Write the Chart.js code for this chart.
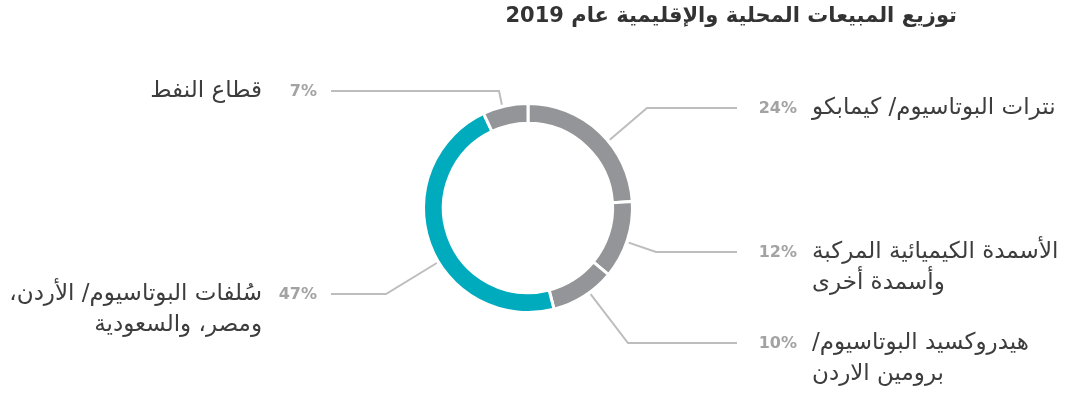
<!DOCTYPE html>
<html>
<head>
  <meta charset="utf-8">
  <style>
    body { margin: 0; padding: 0; background: #fff; }
    #wrap { width: 1078px; height: 394px; }
  </style>
  <script src="https://cdn.jsdelivr.net/npm/chart.js"></script>
</head>
<body>
  <div id="wrap"><canvas id="chart" width="1078" height="394"></canvas></div>
  <script>
    // Sales split, clockwise from 12 o'clock
    const titleText = "توزيع المبيعات المحلية والإقليمية عام 2019";
    const segmentLabels = [
      ["نترات البوتاسيوم/ كيمابكو"],
      ["الأسمدة الكيميائية المركبة", "وأسمدة أخرى"],
      ["هيدروكسيد البوتاسيوم/", "برومين الاردن"],
      ["سُلفات البوتاسيوم/ الأردن،", "ومصر، والسعودية"],
      ["قطاع النفط"]
    ];
    const shares = [24, 12, 10, 47, 7];
    const sliceColors = ["#939598", "#939598", "#939598", "#00abbd", "#939598"];

    // Callout layout: side, elbow point, line end x, nudge of the anchor angle (deg)
    const calloutSide = ["right", "right", "right", "left", "left"];
    const calloutElbow = [[647, 108], [656, 252], [628, 343], [386, 294], [499, 91]];
    const calloutEndX = [737, 737, 737, 331, 331];
    const anchorNudge = [7, 1, -3.6, -11.3, -1.6];

    const LABEL_FONT = '"DejaVu Sans", sans-serif';
    const LINE_GAP = 31;

    const calloutPlugin = {
      id: "callouts",
      afterDraw(chart) {
        const ctx = chart.ctx;
        const arcs = chart.getDatasetMeta(0).data;
        ctx.save();

        // title
        ctx.direction = "rtl";
        ctx.fillStyle = "#333333";
        ctx.font = "bold 21px " + LABEL_FONT;
        ctx.textAlign = "right";
        ctx.textBaseline = "middle";
        ctx.fillText(titleText, 957, 17);

        arcs.forEach((arc, i) => {
          const p = arc.getProps(["x", "y", "startAngle", "endAngle", "outerRadius"], true);
          const a = (p.startAngle + p.endAngle) / 2 + anchorNudge[i] * Math.PI / 180;
          const r = p.outerRadius + 2;
          const sx = p.x + Math.cos(a) * r;
          const sy = p.y + Math.sin(a) * r;
          const [ex, ey] = calloutElbow[i];

          // leader line
          ctx.strokeStyle = "#bdbdbd";
          ctx.lineWidth = 2;
          ctx.beginPath();
          ctx.moveTo(sx, sy);
          ctx.lineTo(ex, ey);
          ctx.lineTo(calloutEndX[i], ey);
          ctx.stroke();

          const right = calloutSide[i] === "right";
          const pctRight = right ? 797 : 317;
          const pct = shares[i] + "%";

          ctx.direction = "ltr";
          ctx.font = "bold 16px " + LABEL_FONT;
          ctx.fillStyle = "#a3a3a3";
          ctx.textAlign = "right";
          ctx.fillText(pct, pctRight, ey + 1);

          ctx.direction = "rtl";
          ctx.font = "23px " + LABEL_FONT;
          ctx.fillStyle = "#3d3d3d";
          segmentLabels[i].forEach((line, k) => {
            const y = ey + k * LINE_GAP;
            if (right) {
              ctx.textAlign = "left";
              ctx.fillText(line, 812, y);
            } else {
              ctx.textAlign = "right";
              ctx.fillText(line, 262, y);
            }
          });
        });
        ctx.restore();
      }
    };

    new Chart(document.getElementById("chart"), {
      type: "doughnut",
      data: {
        labels: segmentLabels.map(l => l.join(" ")),
        datasets: [{
          data: shares,
          backgroundColor: sliceColors,
          borderColor: "#ffffff",
          borderWidth: 3,
          hoverBorderWidth: 3,
          hoverOffset: 0
        }]
      },
      options: {
        responsive: false,
        animation: false,
        cutout: "81%",
        layout: { padding: { left: 422, right: 444, top: 102, bottom: 80 } },
        plugins: {
          legend: { display: false },
          tooltip: { enabled: false },
          title: { display: false }
        }
      },
      plugins: [calloutPlugin]
    });
  </script>
</body>
</html>
